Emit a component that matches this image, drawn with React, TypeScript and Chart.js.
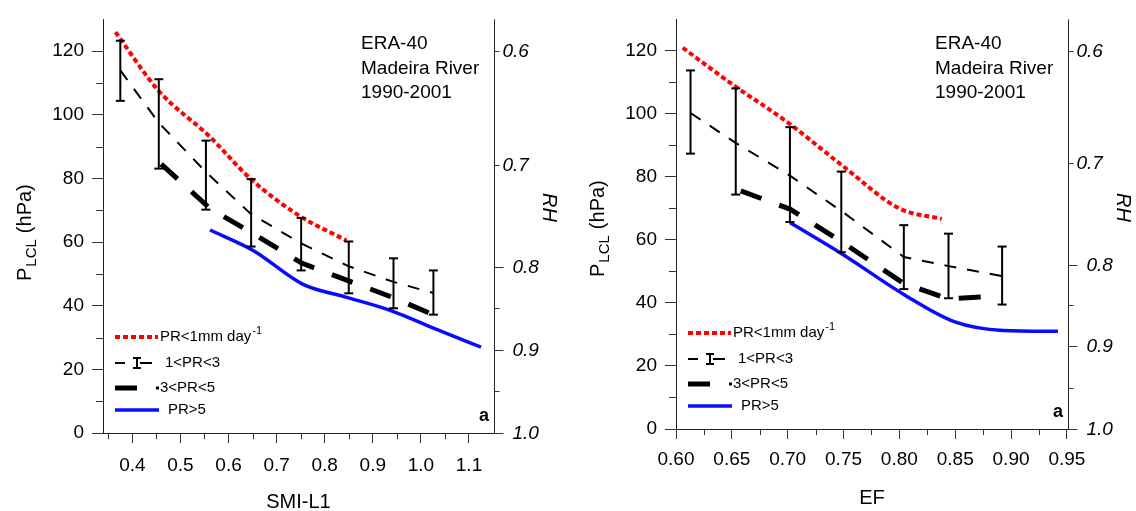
import React, { useEffect, useRef } from 'react';
import { Chart, registerables } from 'chart.js';

Chart.register(...registerables);

const FONT = "'Liberation Sans', Arial, Helvetica, sans-serif";

// ---- shared P_LCL axis (hPa) and secondary RH axis ----
const pTicks = [0, 20, 40, 60, 80, 100, 120];
const pMinorTicks = [10, 30, 50, 70, 90, 110];
const rhLabels = ['0.6', '0.7', '0.8', '0.9', '1.0'];
const rhAtP = [120, 84.3, 52.2, 26.2, 0];
const rhMinorAtP = [39.2, 13.1];

const legendLabels = ['PR<1mm day', '1<PR<3', '3<PR<5', 'PR>5'];
const infoLines = ['ERA-40', 'Madeira River', '1990-2001'];

// ---- panel 1: SMI-L1 ----
const smiTicks = [0.4, 0.5, 0.6, 0.7, 0.8, 0.9, 1.0, 1.1];
const smiMinorTicks = [0.35, 0.45, 0.55, 0.65, 0.75, 0.85, 0.95, 1.05];
const smiDryX = [0.365, 0.455, 0.56, 0.645, 0.745, 0.845];
const smiDryY = [126, 107.5, 93.3, 80, 68.5, 60.5];
const smiMidX = [0.375, 0.455, 0.553, 0.647, 0.751, 0.85, 0.943, 1.026];
const smiMidY = [114, 97.5, 82, 68.8, 59.6, 52.4, 47.5, 44];
const smiMidLo = [104.4, 83.1, 70.2, 58.6, 51.1, 43.9, 39.2, 37.2];
const smiMidHi = [123.3, 111.2, 91.9, 79.8, 67.6, 60.2, 54.9, 51.1];
const smiWetX = [0.46, 0.562, 0.65, 0.752, 0.85, 0.945, 1.028];
const smiWetY = [84.5, 70.5, 62.8, 53.4, 47.8, 42.4, 37];
const smiRainX = [0.5615, 0.652, 0.755, 0.842, 0.939, 1.03, 1.125];
const smiRainY = [63.8, 57.3, 46.7, 42.8, 38.4, 32.7, 27];

// ---- panel 2: EF ----
const efTicks = [0.6, 0.65, 0.7, 0.75, 0.8, 0.85, 0.9, 0.95];
const efMinorTicks = [0.625, 0.675, 0.725, 0.775, 0.825, 0.875, 0.925];
const efDryX = [0.606, 0.652, 0.7, 0.75, 0.8, 0.838];
const efDryY = [121, 109, 97.3, 83.3, 70, 66.7];
const efMidX = [0.613, 0.6535, 0.702, 0.748, 0.804, 0.844, 0.892];
const efMidY = [100.3, 90.8, 80.4, 69.2, 54.6, 51.7, 48.5];
const efMidLo = [87.4, 74.4, 65.7, 56.1, 44.4, 41.5, 39.5];
const efMidHi = [113.8, 108.1, 95.8, 81.7, 64.7, 62, 57.9];
const efWetX = [0.658, 0.702, 0.748, 0.804, 0.844, 0.885];
const efWetY = [75.6, 69.8, 59.5, 46.2, 41.3, 42.1];
const efRainX = [0.702, 0.748, 0.804, 0.849, 0.893, 0.942];
const efRainY = [65.5, 55.7, 42.7, 34.1, 31.3, 31];

type Spec = {
  xTitle: string;
  xMin: number;
  xMax: number;
  xTicks: number[];
  xMinor: number[];
  xDigits: number;
  dryX: number[]; dryY: number[];
  midX: number[]; midY: number[]; midLo: number[]; midHi: number[];
  wetX: number[]; wetY: number[];
  rainX: number[]; rainY: number[];
  padTop: number; padRight: number; yWidth: number; xHeight: number; xLabelPad: number;
};

const smiPanel: Spec = {
  xTitle: 'SMI-L1', xMin: 0.339, xMax: 1.152, xTicks: smiTicks, xMinor: smiMinorTicks, xDigits: 1,
  dryX: smiDryX, dryY: smiDryY, midX: smiMidX, midY: smiMidY, midLo: smiMidLo, midHi: smiMidHi,
  wetX: smiWetX, wetY: smiWetY, rainX: smiRainX, rainY: smiRainY,
  padTop: 13, padRight: 71, yWidth: 103, xHeight: 78, xLabelPad: 11,
};

const efPanel: Spec = {
  xTitle: 'EF', xMin: 0.6, xMax: 0.951, xTicks: efTicks, xMinor: efMinorTicks, xDigits: 2,
  dryX: efDryX, dryY: efDryY, midX: efMidX, midY: efMidY, midLo: efMidLo, midHi: efMidHi,
  wetX: efWetX, wetY: efWetY, rainX: efRainX, rainY: efRainY,
  padTop: 10, padRight: 68, yWidth: 111, xHeight: 82, xLabelPad: 9,
};

function pts(xs: number[], ys: number[]) {
  return xs.map((x, i) => ({ x, y: ys[i] }));
}

function decorPlugin(p: Spec) {
  return {
    id: 'panelDecor',
    afterDraw(chart: any) {
      const ctx: CanvasRenderingContext2D = chart.ctx;
      const { left, right, top, bottom } = chart.chartArea;
      const xs = chart.scales.x;
      const ys = chart.scales.y;
      const seg = (x1: number, y1: number, x2: number, y2: number) => {
        ctx.beginPath();
        ctx.moveTo(x1, y1);
        ctx.lineTo(x2, y2);
        ctx.stroke();
      };
      ctx.save();
      ctx.setLineDash([]);
      ctx.lineCap = 'butt';

      // error bars of 1<PR<3
      ctx.strokeStyle = '#000';
      ctx.lineWidth = 2;
      p.midX.forEach((xv, i) => {
        const px = xs.getPixelForValue(xv);
        const p1 = ys.getPixelForValue(p.midLo[i]);
        const p2 = ys.getPixelForValue(p.midHi[i]);
        seg(px, p1, px, p2);
        seg(px - 4.5, p1, px + 4.5, p1);
        seg(px - 4.5, p2, px + 4.5, p2);
      });

      // minor ticks
      ctx.strokeStyle = '#333';
      ctx.lineWidth = 1;
      p.xMinor.forEach((v) => {
        const px = Math.round(xs.getPixelForValue(v)) + 0.5;
        seg(px, bottom, px, bottom + 6);
      });
      pMinorTicks.forEach((v) => {
        const py = Math.round(ys.getPixelForValue(v)) + 0.5;
        seg(left - 7, py, left, py);
      });

      // right RH axis
      const rx = Math.round(right) + 0.5;
      ctx.strokeStyle = '#222';
      seg(rx, top, rx, bottom + 0.5);
      ctx.fillStyle = '#000';
      ctx.font = `italic 19px ${FONT}`;
      ctx.textAlign = 'left';
      ctx.textBaseline = 'middle';
      rhAtP.forEach((pv, i) => {
        const py = Math.round(ys.getPixelForValue(pv)) + 0.5;
        const short = i < 2;
        ctx.strokeStyle = '#333';
        seg(rx, py, rx + (short ? 5 : 9), py);
        ctx.fillText(rhLabels[i], rx + (short ? 8 : 18), py);
      });
      rhMinorAtP.forEach((pv) => {
        const py = Math.round(ys.getPixelForValue(pv)) + 0.5;
        seg(rx, py, rx + 5, py);
      });
      ctx.save();
      ctx.translate(right + 55, top + 188);
      ctx.rotate(Math.PI / 2);
      ctx.textAlign = 'center';
      ctx.textBaseline = 'middle';
      ctx.font = `italic 20px ${FONT}`;
      ctx.fillText('RH', 0, 0);
      ctx.restore();

      // left axis title P_LCL (hPa)
      ctx.save();
      ctx.translate(left - 72.5, bottom - 152);
      ctx.rotate(-Math.PI / 2);
      ctx.textAlign = 'left';
      ctx.textBaseline = 'alphabetic';
      ctx.font = `20px ${FONT}`;
      ctx.fillText('P', 0, 0);
      const wP = ctx.measureText('P').width;
      ctx.font = `15px ${FONT}`;
      ctx.fillText('LCL', wP + 1, 5.5);
      const wL = ctx.measureText('LCL').width;
      ctx.font = `20px ${FONT}`;
      ctx.fillText('(hPa)', wP + 1 + wL + 6, 0);
      ctx.restore();

      // x title
      ctx.font = `20px ${FONT}`;
      ctx.textAlign = 'center';
      ctx.textBaseline = 'alphabetic';
      ctx.fillText(p.xTitle, (left + right) / 2, bottom + 75);

      // info text
      ctx.font = `19px ${FONT}`;
      ctx.textAlign = 'left';
      infoLines.forEach((t, i) => {
        ctx.fillText(t, right - 133, top + 30 + i * 24.5);
      });

      // panel letter
      ctx.font = `bold 18px ${FONT}`;
      ctx.textAlign = 'right';
      ctx.fillText('a', right - 5, bottom - 12);

      // legend
      const x0 = left + 12;
      const rows = [bottom - 96, bottom - 70, bottom - 45, bottom - 23];
      ctx.textAlign = 'left';
      ctx.textBaseline = 'middle';
      ctx.font = `15px ${FONT}`;
      // row 1: red dotted
      ctx.strokeStyle = '#ff0000';
      ctx.lineWidth = 4;
      ctx.setLineDash([5, 3]);
      seg(x0, rows[0], x0 + 43, rows[0]);
      ctx.setLineDash([]);
      ctx.fillStyle = '#000';
      ctx.fillText(legendLabels[0], x0 + 45, rows[0]);
      const w0 = ctx.measureText(legendLabels[0]).width;
      ctx.font = `11px ${FONT}`;
      ctx.fillText('-1', x0 + 45 + w0 + 1, rows[0] - 6);
      ctx.font = `15px ${FONT}`;
      // row 2: thin dash + error bar
      ctx.strokeStyle = '#000';
      ctx.lineWidth = 2;
      const r2 = rows[1];
      seg(x0, r2, x0 + 10, r2);
      seg(x0 + 22, r2 - 5, x0 + 22, r2 + 5);
      seg(x0 + 18, r2 - 5, x0 + 26, r2 - 5);
      seg(x0 + 18, r2 + 5, x0 + 26, r2 + 5);
      seg(x0 + 25, r2, x0 + 37, r2);
      ctx.fillText(legendLabels[1], x0 + 50, r2);
      // row 3: thick dash
      ctx.lineWidth = 5;
      seg(x0, rows[2], x0 + 22, rows[2]);
      ctx.fillRect(x0 + 41, rows[2] - 1.5, 3, 3);
      ctx.fillText(legendLabels[2], x0 + 45, rows[2]);
      // row 4: blue solid
      ctx.strokeStyle = '#0a0aff';
      ctx.lineWidth = 3.5;
      seg(x0, rows[3], x0 + 44, rows[3]);
      ctx.fillText(legendLabels[3], x0 + 53, rows[3]);

      ctx.restore();
    },
  };
}

function PanelChart({ spec, left, width }: { spec: Spec; left: number; width: number }) {
  const ref = useRef<HTMLCanvasElement | null>(null);
  useEffect(() => {
    if (!ref.current) return;
    const chart = new Chart(ref.current, {
      type: 'line',
      data: {
        datasets: [
          {
            label: legendLabels[3],
            data: pts(spec.rainX, spec.rainY),
            borderColor: '#0a0aff',
            borderWidth: 3.5,
            pointRadius: 0,
            cubicInterpolationMode: 'monotone',
          },
          {
            label: legendLabels[2],
            data: pts(spec.wetX, spec.wetY),
            borderColor: '#000',
            borderWidth: 5,
            borderDash: [22, 19],
            pointRadius: 0,
          },
          {
            label: legendLabels[1],
            data: pts(spec.midX, spec.midY),
            borderColor: '#000',
            borderWidth: 2,
            borderDash: [12, 11],
            pointRadius: 0,
          },
          {
            label: legendLabels[0],
            data: pts(spec.dryX, spec.dryY),
            borderColor: '#ff0000',
            borderWidth: 4,
            borderDash: [5, 3],
            pointRadius: 0,
            cubicInterpolationMode: 'monotone',
          },
        ],
      } as any,
      options: {
        responsive: false,
        animation: false,
        devicePixelRatio: 1,
        layout: { padding: { top: spec.padTop, right: spec.padRight, left: 0, bottom: 0 } },
        plugins: {
          legend: { display: false },
          tooltip: { enabled: false },
          title: { display: false },
        },
        scales: {
          x: {
            type: 'linear',
            position: 'bottom',
            min: spec.xMin,
            max: spec.xMax,
            afterBuildTicks: (s: any) => {
              s.ticks = spec.xTicks.map((v) => ({ value: v }));
            },
            afterFit: (s: any) => {
              s.height = spec.xHeight;
            },
            ticks: {
              callback: (v: any) => Number(v).toFixed(spec.xDigits),
              font: { size: 19, family: FONT },
              color: '#000',
              padding: spec.xLabelPad,
              maxRotation: 0,
              autoSkip: false,
            },
            grid: { display: true, drawOnChartArea: false, drawTicks: true, tickLength: 10, tickColor: '#333', tickWidth: 1 },
            border: { display: true, color: '#222', width: 1 },
          },
          y: {
            type: 'linear',
            position: 'left',
            min: 0,
            max: 130,
            afterBuildTicks: (s: any) => {
              s.ticks = pTicks.map((v) => ({ value: v }));
            },
            afterFit: (s: any) => {
              s.width = spec.yWidth;
            },
            ticks: {
              callback: (v: any) => String(v),
              font: { size: 19, family: FONT },
              color: '#000',
              padding: 8,
              autoSkip: false,
            },
            grid: { display: true, drawOnChartArea: false, drawTicks: true, tickLength: 11, tickColor: '#333', tickWidth: 1 },
            border: { display: true, color: '#222', width: 1 },
          },
        },
      } as any,
      plugins: [decorPlugin(spec)],
    });
    return () => chart.destroy();
  }, [spec]);
  return (
    <canvas
      ref={ref}
      width={width}
      height={511}
      style={{ position: 'absolute', left, top: 0, width, height: 511 }}
    />
  );
}

export default function App() {
  return (
    <div
      style={{
        position: 'fixed',
        left: 0,
        top: 0,
        width: 1136,
        height: 511,
        background: '#fff',
        overflow: 'hidden',
      }}
    >
      <PanelChart spec={smiPanel} left={0} width={565} />
      <PanelChart spec={efPanel} left={565} width={571} />
    </div>
  );
}
